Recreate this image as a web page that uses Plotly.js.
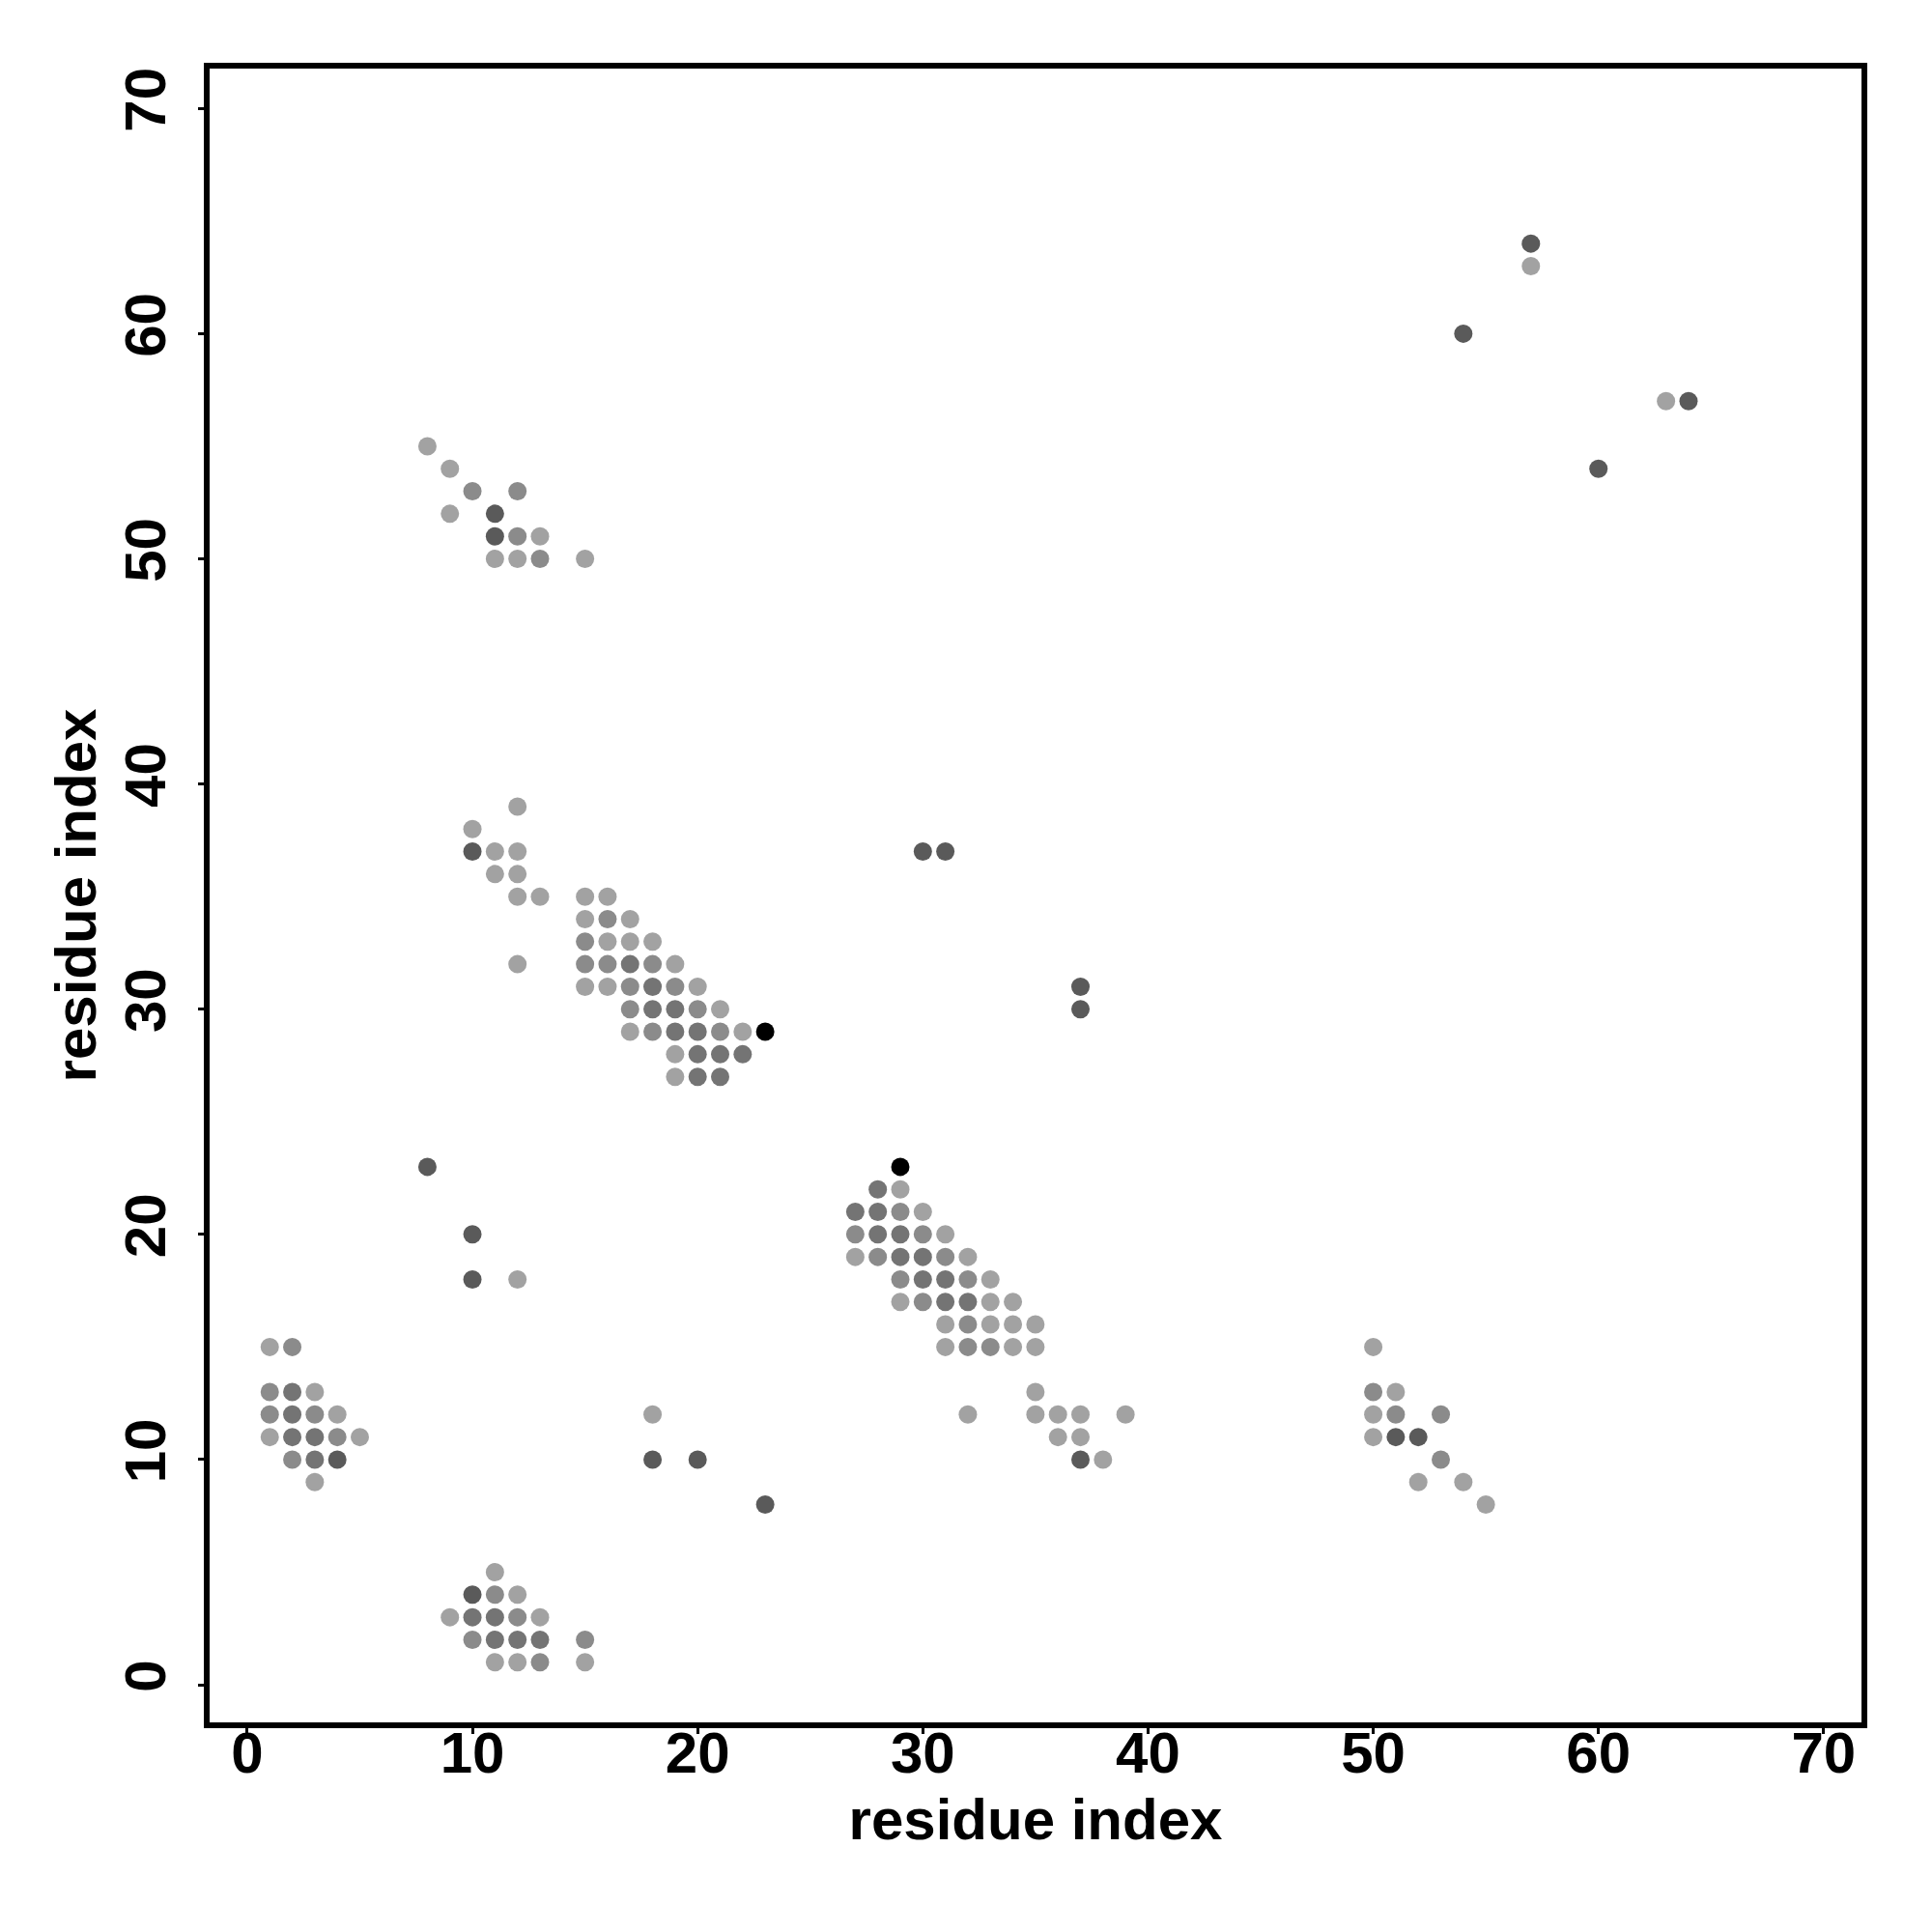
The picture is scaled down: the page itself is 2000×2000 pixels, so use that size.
<!DOCTYPE html>
<html>
<head>
<meta charset="utf-8">
<script src="https://cdn.plot.ly/plotly-3.0.1.min.js"></script>
<style>html,body{margin:0;padding:0;background:#fff;}#chart{width:2000px;height:2000px;}</style>
</head>
<body>
<div id="chart"></div>
<script>
// residue i (x), residue j (y), contact strength level (1 = weak/light ... 5 = strongest/black)
const resI = [
  1,2, 1,2,3, 1,2,3,4, 1,2,3,4,5, 2,3,4, 3,
  11, 10,11,12, 9,10,11,12,13, 10,11,12,13,15, 11,12,13,15,
  15,16, 15,16,17, 15,16,17,18, 15,16,17,18,19, 15,16,17,18,19,20, 17,18,19,20,21, 17,18,19,20,21,22,23, 19,20,21,22, 19,20,21,
  29, 28,29, 27,28,29,30, 27,28,29,30,31, 27,28,29,30,31,32, 29,30,31,32,33, 29,30,31,32,33,34, 31,32,33,34,35, 31,32,33,34,35, 35, 32,35,36,37,39, 36,37, 37,38,
  8,9,10,12,9,11,11,12,13,11,12,13,15,
  12,10,10,11,12,11,12,12,13,12,
  50,50,51,50,51,53,50,51,52,53,52,54,55,
  57,57,54,63,64,60,
  8,10,10,12,18,18,20,23,37,37,30,31
];
const resJ = [
  15,15, 13,13,13, 12,12,12,12, 11,11,11,11,11, 10,10,10, 9,
  5, 4,4,4, 3,3,3,3,3, 2,2,2,2,2, 1,1,1,1,
  35,35, 34,34,34, 33,33,33,33, 32,32,32,32,32, 31,31,31,31,31,31, 30,30,30,30,30, 29,29,29,29,29,29,29, 28,28,28,28, 27,27,27,
  23, 22,22, 21,21,21,21, 20,20,20,20,20, 19,19,19,19,19,19, 18,18,18,18,18, 17,17,17,17,17,17, 16,16,16,16,16, 15,15,15,15,15, 13, 12,12,12,12,12, 11,11, 10,10,
  55,54,53,53,52,52,51,51,51,50,50,50,50,
  39,38,37,37,37,36,36,35,35,32,
  15,13,13,12,12,12,11,11,11,10,9,9,8,
  64,63,60,57,57,54,
  23,20,18,18,12,10,10,8,31,30,37,37
];
const strength = [
  1,2, 2,3,1, 2,3,2,1, 1,3,3,2,1, 2,3,4, 1,
  1, 4,2,1, 1,3,3,2,1, 2,3,3,3,2, 1,1,2,1,
  1,1, 1,2,1, 2,1,1,1, 2,2,3,2,1, 1,1,2,3,2,1, 2,3,3,2,1, 1,2,3,3,2,1,5, 1,3,3,3, 1,3,3,
  5, 3,1, 3,3,2,1, 2,3,3,2,1, 1,2,3,3,2,1, 2,3,3,2,1, 1,2,3,3,1,1, 1,2,1,1,1, 1,2,2,1,1, 1, 1,1,1,1,1, 1,1, 4,1,
  1,1,2,2,1,4,4,2,1,1,1,2,1,
  1,1,4,1,1,1,1,1,1,1,
  1,2,1,1,2,2,1,4,4,2,1,1,1,
  4,1,4,1,4,4,
  4,4,4,1,1,4,4,4,4,4,4,4
];
const levelGrays = ['#ffffff', '#a2a2a2', '#8b8b8b', '#747474', '#5a5a5a', '#000000'];
const xTicks = [0, 10, 20, 30, 40, 50, 60, 70];
const yTicks = [0, 10, 20, 30, 40, 50, 60, 70];
const xLabel = 'residue index';
const yLabel = 'residue index';

const font = {family: 'Liberation Sans, Arial, Helvetica, sans-serif', size: 60, color: '#000', weight: 'bold'};

const trace = {
  type: 'scatter',
  mode: 'markers',
  x: resI,
  y: resJ,
  marker: {
    size: 19,
    color: strength.map(l => levelGrays[l]),
    line: {width: 0}
  },
  hoverinfo: 'x+y'
};

const layout = {
  width: 2000,
  height: 2000,
  paper_bgcolor: '#fff',
  plot_bgcolor: '#fff',
  showlegend: false,
  margin: {l: 217, r: 73, t: 71, b: 217, pad: 0},
  font: font,
  xaxis: {
    range: [-1.67, 71.68],
    tickvals: xTicks,
    ticktext: xTicks.map(String),
    ticks: 'outside',
    ticklen: 6,
    tickwidth: 3,
    tickcolor: '#000',
    ticklabelstandoff: -32,
    showgrid: false,
    zeroline: false,
    showline: true,
    linewidth: 6,
    linecolor: '#000',
    mirror: true,
    tickfont: font,
    title: {text: xLabel, font: font, standoff: 17},
    automargin: false
  },
  yaxis: {
    range: [-1.67, 71.77],
    tickvals: yTicks,
    ticktext: yTicks.map(String),
    ticks: 'outside',
    ticklen: 6,
    tickwidth: 3,
    tickcolor: '#000',
    tickangle: -90,
    ticklabelstandoff: 10,
    showgrid: false,
    zeroline: false,
    showline: true,
    linewidth: 6,
    linecolor: '#000',
    mirror: true,
    tickfont: font,
    title: {text: yLabel, font: font, standoff: 0},
    automargin: false
  }
};

Plotly.newPlot('chart', [trace], layout, {staticPlot: true, displayModeBar: false});
</script>
</body>
</html>
